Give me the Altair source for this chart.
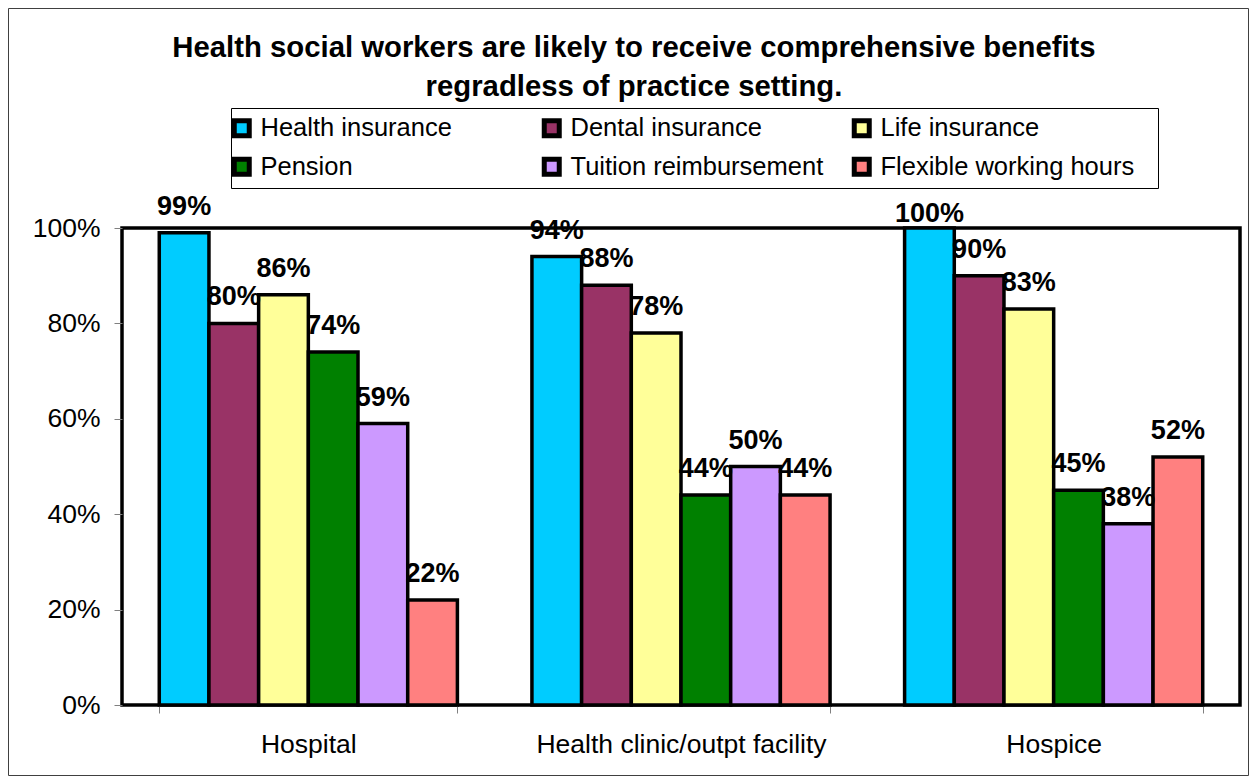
import altair as alt
import pandas as pd

categories = ["Hospital", "Health clinic/outpt facility", "Hospice"]
series = ["Health insurance", "Dental insurance", "Life insurance",
          "Pension", "Tuition reimbursement", "Flexible working hours"]
health_insurance = [99, 94, 100]
dental_insurance = [80, 88, 90]
life_insurance = [86, 78, 83]
pension = [74, 44, 45]
tuition = [59, 50, 38]
flexible = [22, 44, 52]
colors = ["#00CCFF", "#993366", "#FFFF99", "#008000", "#CC99FF", "#FF8080"]
y_ticks = [0, 20, 40, 60, 80, 100]
title_lines = ["Health social workers are likely to receive comprehensive benefits",
               "regradless of practice setting."]

all_values = [health_insurance, dental_insurance, life_insurance, pension, tuition, flexible]
rows = []
for s, vals in zip(series, all_values):
    for c, v in zip(categories, vals):
        rows.append({"setting": c, "benefit": s, "value": v, "label": f"{v}%"})
df = pd.DataFrame(rows)

FONT = "Liberation Sans"

x = alt.X("setting:N", sort=categories,
          scale=alt.Scale(paddingInner=0.2, paddingOuter=0.1),
          axis=alt.Axis(title=None, labelAngle=0, labelFontSize=26.5, labelFont=FONT,
                        labelColor="black", tickBand="extent", tickSize=8,
                        tickColor="#808080", tickWidth=1, domain=False,
                        labelPadding=18, labelLimit=600))
xoff = alt.XOffset("benefit:N", sort=series, scale=alt.Scale(paddingInner=0, paddingOuter=0))
y = alt.Y("value:Q", scale=alt.Scale(domain=[0, 100], nice=False),
          axis=alt.Axis(title=None, values=y_ticks, labelExpr="datum.value + '%'",
                        labelFontSize=26.5, labelFont=FONT, labelColor="black",
                        tickSize=8, tickColor="#808080", tickWidth=1, domain=False,
                        grid=False, labelPadding=14))

color = alt.Color("benefit:N", sort=series,
                  scale=alt.Scale(domain=series, range=colors),
                  legend=alt.Legend(title=None, orient="none", legendX=107, legendY=-113,
                                    direction="horizontal", columns=3, gridAlign="all",
                                    columnPadding=19, rowPadding=3,
                                    symbolType="square", symbolSize=225,
                                    symbolStrokeColor="black", symbolStrokeWidth=5,
                                    labelFontSize=25.5, labelFont=FONT, labelColor="black",
                                    labelOffset=6, labelLimit=500, padding=0))

base = alt.Chart(df)
bars = base.mark_bar(stroke="black", strokeWidth=3.5).encode(
    x=x, xOffset=xoff, y=y, color=color)
label_x = alt.X("setting:N", sort=categories)
label_off = alt.XOffset("benefit:N", sort=series)
labels = base.mark_text(fontSize=27, fontWeight="bold", font=FONT, color="black",
                        baseline="alphabetic", dy=-18).encode(
    x=label_x, xOffset=label_off, y="value:Q", text="label:N"
).transform_filter("datum.value < 100")
labels_top = base.mark_text(fontSize=27, fontWeight="bold", font=FONT, color="black",
                            baseline="alphabetic", dy=-6).encode(
    x=label_x, xOffset=label_off, y="value:Q", text="label:N"
).transform_filter("datum.value >= 100")

one = pd.DataFrame({"a": [0]})
border = alt.Chart(one).mark_rect(
    filled=False, stroke="#404040", strokeWidth=1).encode(
    x=alt.value(-113.5), x2=alt.value(1126.5), y=alt.value(-219.5), y2=alt.value(547.5))
legend_box = alt.Chart(one).mark_rect(
    filled=False, stroke="black", strokeWidth=1).encode(
    x=alt.value(109.5), x2=alt.value(1036.5), y=alt.value(-119.5), y2=alt.value(-39.5))
title1 = alt.Chart(one).mark_text(fontSize=29.3, fontWeight="bold", font=FONT, color="black",
                                  baseline="alphabetic", align="center").encode(
    x=alt.value(512), y=alt.value(-171), text=alt.value(title_lines[0]))
title2 = alt.Chart(one).mark_text(fontSize=29.3, fontWeight="bold", font=FONT, color="black",
                                  baseline="alphabetic", align="center").encode(
    x=alt.value(512), y=alt.value(-132), text=alt.value(title_lines[1]))

chart = alt.layer(border, legend_box, title1, title2, bars, labels, labels_top).properties(
    width=1118, height=477, autosize="none",
    padding={"left": 114, "top": 220, "right": 9, "bottom": 71},
    background="white",
).configure_view(stroke="black", strokeWidth=3.5)

chart.save("out.html", embed_options={"renderer": "svg", "actions": False})
